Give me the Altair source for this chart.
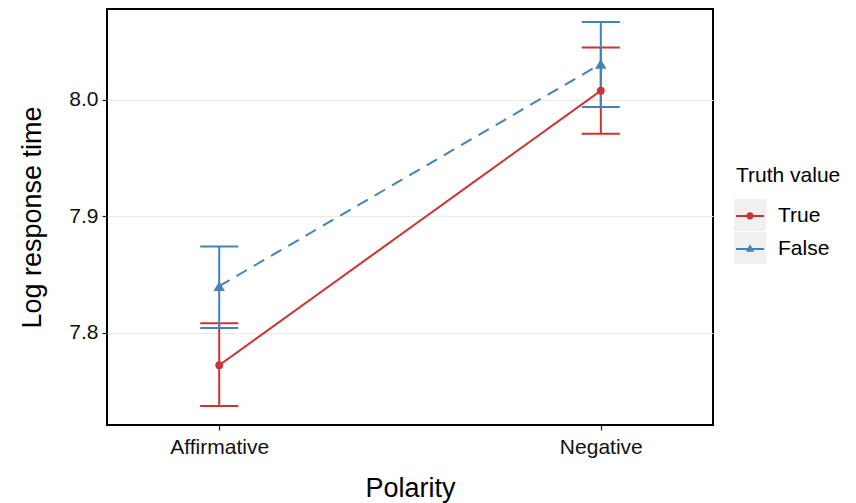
import altair as alt
import pandas as pd

polarity = ["Affirmative", "Affirmative", "Negative", "Negative"]
truth = ["True", "False", "True", "False"]
mean_rt = [7.772, 7.840, 8.008, 8.031]
lower_rt = [7.737, 7.804, 7.971, 7.994]
upper_rt = [7.808, 7.874, 8.045, 8.067]

categories = ["Affirmative", "Negative"]
truth_levels = ["True", "False"]
colors = ["#cd3333", "#4682b4"]
dashes = [[1, 0], [12, 8]]
marker_shapes = ["circle", "triangle-up"]
marker_sizes = [60, 130]
y_ticks = [7.8, 7.9, 8.0]

df = pd.DataFrame({
    "polarity": polarity,
    "truth": truth,
    "mean": mean_rt,
    "lower": lower_rt,
    "upper": upper_rt,
})

FONT = "Liberation Sans"

x_enc = alt.X(
    "polarity:N",
    sort=categories,
    scale=alt.Scale(type="point", padding=0.294),
    axis=alt.Axis(title="Polarity", labelAngle=0),
)
y_scale = alt.Scale(domain=[7.7206, 8.0782], nice=False, zero=False)
col_scale = alt.Scale(domain=truth_levels, range=colors)

# legend key glyphs: a 2px line with a marker, unit square [-1, 1]
path_true = ("M-1,-0.07H1V0.07H-1Z"
             "M0.26,0A0.26,0.26,0,1,1,-0.26,0A0.26,0.26,0,1,1,0.26,0Z")
path_false = "M-1,-0.07H1V0.07H-1ZM0,-0.34L0.3,0.2L-0.3,0.2Z"

base = alt.Chart(df)

legend_props = dict(
    title="Truth value",
    orient="none",
    legendX=629,
    legendY=156,
    symbolSize=784,
    symbolStrokeWidth=0,
    symbolOpacity=1,
    labelOffset=14,
    rowPadding=9,
    titlePadding=16,
    zindex=2,
)
legend_layer = base.mark_point(filled=True, size=0).encode(
    x=x_enc,
    y=alt.Y("mean:Q", scale=y_scale,
            axis=alt.Axis(title="Log response time", values=y_ticks, format=".1f")),
    color=alt.Color("truth:N", scale=col_scale, sort=truth_levels,
                    legend=alt.Legend(**legend_props)),
    shape=alt.Shape("truth:N", sort=truth_levels,
                    scale=alt.Scale(domain=truth_levels, range=[path_true, path_false]),
                    legend=alt.Legend(**legend_props)),
)

# grey key backgrounds, as in the ggplot legend (own domain so it is not merged)
bg_keys = [t + " key" for t in truth_levels]
key_bg_layer = base.transform_calculate(
    bgkey="datum.truth + ' key'"
).mark_square(size=0, filled=True).encode(
    x=x_enc,
    y=alt.Y("mean:Q", scale=y_scale),
    fill=alt.Fill("bgkey:N", sort=bg_keys,
                  scale=alt.Scale(domain=bg_keys, range=["#f0f0f0", "#f0f0f0"]),
                  legend=alt.Legend(
                      title=None,
                      orient="none",
                      legendX=627,
                      legendY=190,
                      symbolType="square",
                      symbolSize=1024,
                      symbolStrokeWidth=0,
                      symbolOpacity=1,
                      rowPadding=1,
                      labelExpr="''",
                      zindex=1,
                  )),
)

err_layers, line_layers, point_layers = [], [], []
for lvl, col, dash, shp, sz in zip(truth_levels, colors, dashes, marker_shapes, marker_sizes):
    sub = base.transform_filter(alt.datum.truth == lvl)
    err_layers.append(sub.mark_rule(strokeWidth=2, color=col).encode(
        x=x_enc, y=alt.Y("lower:Q", scale=y_scale), y2="upper:Q"))
    err_layers.append(sub.mark_tick(thickness=2, size=38, color=col, opacity=1).encode(
        x=x_enc, y=alt.Y("lower:Q", scale=y_scale)))
    err_layers.append(sub.mark_tick(thickness=2, size=38, color=col, opacity=1).encode(
        x=x_enc, y=alt.Y("upper:Q", scale=y_scale)))
    line_layers.append(sub.mark_line(strokeWidth=2, color=col, strokeDash=dash).encode(
        x=x_enc, y=alt.Y("mean:Q", scale=y_scale)))
    point_layers.append(sub.mark_point(filled=True, opacity=1, shape=shp, size=sz, color=col).encode(
        x=x_enc, y=alt.Y("mean:Q", scale=y_scale)))

chart = (
    alt.layer(key_bg_layer, legend_layer, *err_layers, *line_layers, *point_layers)
    .properties(
        width=606,
        height=416,
        autosize=alt.AutoSizeParams(type="none"),
        padding={"left": 99, "top": 1, "right": 135, "bottom": 78},
    )
    .configure_view(stroke="#000000", strokeWidth=2)
    .configure_axis(
        labelFont=FONT,
        titleFont=FONT,
        labelFontSize=21,
        titleFontSize=27,
        titleFontWeight="normal",
        labelColor="#111111",
        titleColor="#000000",
        domain=False,
        tickColor="#1a1a1a",
        tickSize=5,
        tickWidth=1.2,
        gridColor="#ebebeb",
        gridWidth=1.2,
    )
    .configure_axisX(labelPadding=6, titlePadding=18)
    .configure_axisY(labelPadding=4, titlePadding=22)
    .configure_legend(
        titleFont=FONT,
        labelFont=FONT,
        titleFontSize=21,
        labelFontSize=21,
        titleFontWeight="normal",
        titleColor="#000000",
        labelColor="#000000",
    )
)

chart.save("out.html", embed_options={"renderer": "svg", "actions": False})
